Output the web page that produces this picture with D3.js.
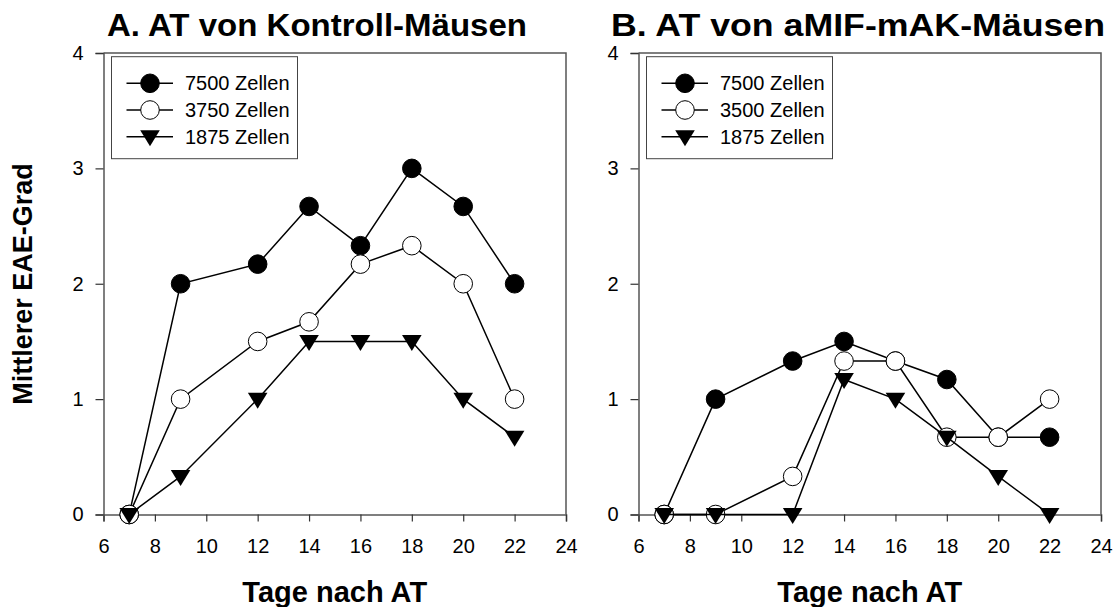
<!DOCTYPE html>
<html>
<head>
<meta charset="utf-8">
<script src="https://cdn.jsdelivr.net/npm/d3@7"></script>
<style>
  body { margin: 0; background: #fff; }
  text { font-family: "Liberation Sans", Arial, sans-serif; }
</style>
</head>
<body>
<svg width="1114" height="607"></svg>
<script>
var days = [7, 9, 12, 14, 16, 18, 20, 22];

// panel A: AT von Kontroll-Mäusen
var ctrl7500 = [0, 2, 2.17, 2.67, 2.33, 3, 2.67, 2];
var ctrl3750 = [0, 1, 1.5, 1.67, 2.17, 2.33, 2, 1];
var ctrl1875 = [0, 0.33, 1, 1.5, 1.5, 1.5, 1, 0.67];

// panel B: AT von aMIF-mAK-Mäusen
var mif7500 = [0, 1, 1.33, 1.5, 1.33, 1.17, 0.67, 0.67];
var mif3500 = [0, 0, 0.33, 1.33, 1.33, 0.67, 0.67, 1];
var mif1875 = [0, 0, 0, 1.17, 1, 0.67, 0.33, 0];

var xTicks = [6, 8, 10, 12, 14, 16, 18, 20, 22, 24];
var yTicks = [0, 1, 2, 3, 4];

var panels = [
  { title: "A. AT von Kontroll-Mäusen", left: 103.5, titleX: 317, titleLen: 420,
    series: [
      { name: "7500 Zellen", values: ctrl7500, marker: "filled" },
      { name: "3750 Zellen", values: ctrl3750, marker: "open" },
      { name: "1875 Zellen", values: ctrl1875, marker: "tri" }
    ] },
  { title: "B. AT von aMIF-mAK-Mäusen", left: 638.5, titleX: 858, titleLen: 494,
    series: [
      { name: "7500 Zellen", values: mif7500, marker: "filled" },
      { name: "3500 Zellen", values: mif3500, marker: "open" },
      { name: "1875 Zellen", values: mif1875, marker: "tri" }
    ] }
];

var svg = d3.select("svg");
var plotTop = 53, plotBottom = 514.5, plotW = 462.5;
var axisColor = "#555";

function drawMarker(sel, type) {
  if (type === "tri") {
    sel.append("path")
      .attr("d", "M-9.8,-6.5L9.8,-6.5L0,9.5Z")
      .attr("fill", "#000");
  } else {
    sel.append("circle")
      .attr("r", 9.3)
      .attr("fill", type === "filled" ? "#000" : "#fff")
      .attr("stroke", "#000")
      .attr("stroke-width", 1);
  }
}

panels.forEach(function(p) {
  var x = d3.scaleLinear().domain([6, 24]).range([p.left, p.left + plotW]);
  var y = d3.scaleLinear().domain([0, 4]).range([plotBottom, plotTop]);
  var g = svg.append("g");

  // frame (top + right)
  g.append("path")
    .attr("d", "M" + x(6) + "," + y(4) + "H" + x(24) + "V" + y(0))
    .attr("fill", "none").attr("stroke", axisColor).attr("stroke-width", 1.5);

  var xAxis = g.append("g")
    .attr("transform", "translate(0," + plotBottom + ")")
    .call(d3.axisBottom(x).tickValues(xTicks).tickFormat(d3.format("d"))
      .tickSizeOuter(0).tickSize(7).tickPadding(17));
  var yAxis = g.append("g")
    .attr("transform", "translate(" + p.left + ",0)")
    .call(d3.axisLeft(y).tickValues(yTicks).tickFormat(d3.format("d"))
      .tickSizeOuter(0).tickSize(8).tickPadding(12));

  [xAxis, yAxis].forEach(function(a) {
    a.select(".domain").attr("stroke", axisColor).attr("stroke-width", 1.5);
    a.selectAll(".tick line").attr("stroke", "#333").attr("stroke-width", 1.2);
    a.selectAll(".tick text").attr("fill", "#000")
      .style("font-size", "20px").style("font-family", "'Liberation Sans', Arial, sans-serif");
  });

  // series
  var line = d3.line().x(function(d) { return x(d[0]); }).y(function(d) { return y(d[1]); });
  p.series.forEach(function(s) {
    var pts = days.map(function(d, i) { return [d, s.values[i]]; });
    g.append("path")
      .attr("d", line(pts))
      .attr("fill", "none").attr("stroke", "#000").attr("stroke-width", 1.5);
    g.selectAll(null).data(pts).enter().append("g")
      .attr("transform", function(d) { return "translate(" + x(d[0]) + "," + y(d[1]) + ")"; })
      .each(function() { drawMarker(d3.select(this), s.marker); });
  });

  // legend
  var lg = g.append("g").attr("transform", "translate(" + (p.left + 8) + "," + (plotTop + 3.7) + ")");
  lg.append("rect").attr("width", 186).attr("height", 102)
    .attr("fill", "#fff").attr("stroke", "#444").attr("stroke-width", 1);
  p.series.forEach(function(s, i) {
    var row = lg.append("g").attr("transform", "translate(0," + (26.6 + i * 26.7) + ")");
    row.append("line").attr("x1", 15).attr("x2", 61.5)
      .attr("stroke", "#000").attr("stroke-width", 1.5);
    var m = row.append("g").attr("transform", "translate(38.5,0)");
    drawMarker(m, s.marker);
    row.append("text").attr("x", 73.5).attr("dy", "0.35em")
      .style("font-size", "20px").text(s.name);
  });

  // titles
  g.append("text").attr("x", p.titleX).attr("y", 36)
    .attr("text-anchor", "middle")
    .attr("textLength", p.titleLen).attr("lengthAdjust", "spacingAndGlyphs")
    .style("font-size", "32px").style("font-weight", "bold").text(p.title);
  g.append("text").attr("x", p.left + plotW / 2).attr("y", 602)
    .attr("text-anchor", "middle")
    .style("font-size", "29px").style("font-weight", "bold").text("Tage nach AT");
});

svg.append("text")
  .attr("transform", "translate(32,284) rotate(-90)")
  .attr("text-anchor", "middle")
  .style("font-size", "27px").style("font-weight", "bold")
  .text("Mittlerer EAE-Grad");
</script>
</body>
</html>
